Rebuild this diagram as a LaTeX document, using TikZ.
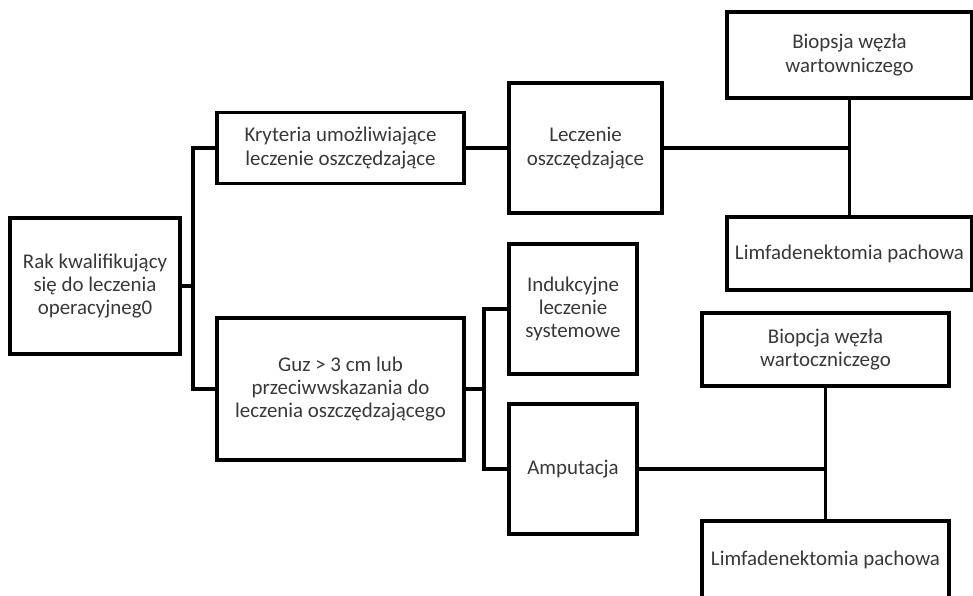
\documentclass[tikz,border=0pt]{standalone}
\usepackage{fontspec}
\setmainfont{Carlito}
\usepackage{tikz}
\usetikzlibrary{calc}
\usetikzlibrary{positioning}
\tikzset{box/.style={rectangle,draw=black,line width=3.4bp,align=center,inner sep=1pt,text=black!78,font=\fontsize{21}{23.5}\selectfont}}
\tikzset{link/.style={line width=3.4bp}}

\begin{document}
\begin{tikzpicture}[x=1bp,y=-1bp]
\useasboundingbox (0,0) rectangle (973,596);
% left column
\node[box,minimum width=170bp,minimum height=136bp] (rak) at (95,286) {Rak kwalifikujący\\się do leczenia\\operacyjneg0};
\node[box,minimum width=247bp,minimum height=71bp] (kryt) at (340.5,148) {Kryteria umożliwiające\\leczenie oszczędzające};
\node[box,minimum width=247bp,minimum height=142bp] (guz) at (340.5,389) {Guz > 3 cm lub\\przeciwwskazania do\\leczenia oszczędzającego};
% middle column
\node[box,minimum width=153bp,minimum height=130bp] (lecz) at (585.5,148) {Leczenie\\oszczędzające};
\node[box,minimum width=128bp,minimum height=130bp] (ind) at (573,309) {Indukcyjne\\leczenie\\systemowe};
\node[box,minimum width=128bp,minimum height=130bp] (amp) at (573,469) {Amputacja};
% right column
\node[box,minimum width=245bp,minimum height=86bp] (bio1) at (849.5,55) {Biopsja węzła\\wartowniczego};
\node[box,minimum width=245bp,minimum height=73bp] (limf1) at (849.5,253.5) {Limfadenektomia pachowa};
\node[box,minimum width=247bp,minimum height=73bp] (bio2) at (825.5,349.5) {Biopcja węzła\\wartoczniczego};
\node[box,minimum width=247bp,minimum height=78bp] (limf2) at (825.5,560) {Limfadenektomia pachowa};

\coordinate (b1) at (193,286);
\coordinate (b2) at (484,389);
\draw[link] (rak) -- (b1);
\draw[link] (kryt.west) -| (b1) |- (guz.west);
\draw[link] (kryt) -- (lecz);
\draw[link] (guz) -- (b2);
\draw[link] (ind.west) -| (b2) |- (amp.west);
\foreach \i / \j / \k in {bio1/limf1/lecz, bio2/limf2/amp} {
	\draw[link] (\i.south) -- (\j.north);
	\draw[link] (\k.east) -- (\k.east -| \i.south);
}
\end{tikzpicture}
\end{document}
